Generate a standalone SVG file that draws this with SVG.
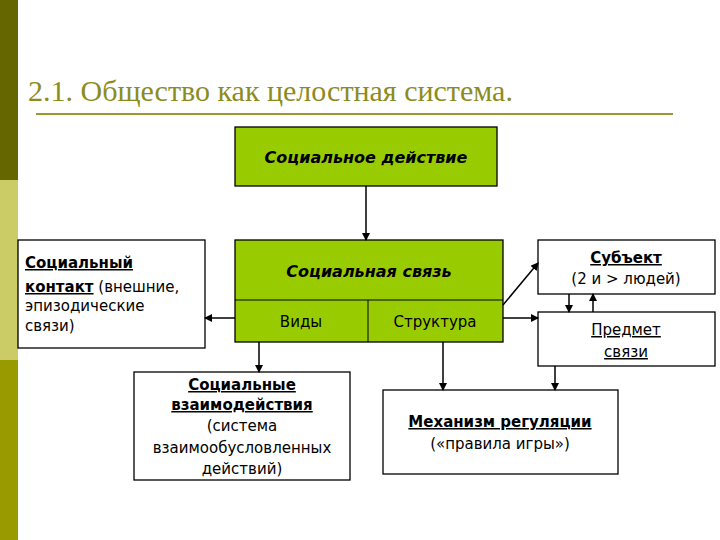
<svg xmlns="http://www.w3.org/2000/svg" width="720" height="540" viewBox="0 0 720 540">
<defs>
<marker id="ah" markerWidth="8" markerHeight="8" refX="7" refY="4" orient="auto" markerUnits="userSpaceOnUse"><path d="M0,0 L8,4 L0,8 z" fill="#000"/></marker>
</defs>
<style>
.g{fill:#99CC00;stroke:#000;stroke-width:1.3}
.w{fill:#fff;stroke:#000;stroke-width:1.3}
text{font-family:"DejaVu Sans","Liberation Sans",sans-serif;font-size:15px;fill:#000}
.b{font-weight:bold}
.bi{font-weight:bold;font-style:italic;font-size:16px}
.c{stroke:#000;stroke-width:1.5;fill:none;marker-end:url(#ah)}
</style>
<rect width="720" height="540" fill="#fff"/>
<rect x="0" y="0" width="18" height="180" fill="#666600"/>
<rect x="0" y="180" width="18" height="180" fill="#CCCC66"/>
<rect x="0" y="360" width="18" height="180" fill="#999900"/>
<text x="28" y="101" style="font-family:'Liberation Serif',serif;font-size:30px;fill:#8c8c1e">2.1. Общество как целостная система.</text>
<line x1="36" y1="114" x2="673" y2="114" stroke="#999933" stroke-width="2"/>
<g id="action"><rect class="g" x="235" y="127" width="262" height="59"/><text class="bi" x="366" y="163" text-anchor="middle">Социальное действие</text></g>
<g id="link"><rect class="g" x="235" y="240" width="268" height="102"/><line x1="235" y1="300" x2="503" y2="300" stroke="#000"/><line x1="368" y1="300" x2="368" y2="342" stroke="#000"/>
<text class="bi" x="369" y="277" text-anchor="middle">Социальная связь</text>
<text x="301" y="327" text-anchor="middle">Виды</text><text x="435" y="327" text-anchor="middle">Структура</text></g>
<g id="contact"><rect class="w" x="18" y="240" width="187" height="108"/>
<text x="25" y="268"><tspan class="b" text-decoration="underline">Социальный</tspan></text>
<text x="25" y="292"><tspan class="b" text-decoration="underline">контакт</tspan> (внешние,</text>
<text x="25" y="311">эпизодические</text><text x="25" y="331">связи)</text></g>
<g id="subject"><rect class="w" x="538" y="240" width="177" height="54"/>
<text class="b" x="626" y="263" text-anchor="middle" text-decoration="underline">Субъект</text>
<text x="626" y="284" text-anchor="middle">(2 и &gt; людей)</text></g>
<g id="subjectlink"><rect class="w" x="538" y="312" width="177" height="54"/>
<text x="626" y="335" text-anchor="middle" text-decoration="underline">Предмет</text>
<text x="626" y="357" text-anchor="middle" text-decoration="underline">связи</text></g>
<g id="interact"><rect class="w" x="134" y="372" width="216" height="108"/>
<text class="b" x="242" y="390" text-anchor="middle" text-decoration="underline">Социальные</text>
<text class="b" x="242" y="410" text-anchor="middle" text-decoration="underline">взаимодействия</text>
<text x="242" y="431" text-anchor="middle">(система</text>
<text x="242" y="453" text-anchor="middle">взаимообусловленных</text>
<text x="242" y="474" text-anchor="middle">действий)</text></g>
<g id="mech"><rect class="w" x="383" y="390" width="235" height="84"/>
<text class="b" x="500" y="427" text-anchor="middle" text-decoration="underline">Механизм регуляции</text>
<text x="500" y="449" text-anchor="middle">(«правила игры»)</text></g>
<g id="connectors">
<line class="c" x1="366" y1="186" x2="366" y2="240"/>
<line class="c" x1="235" y1="318" x2="205" y2="318"/>
<line class="c" x1="503" y1="305" x2="538" y2="263"/>
<line class="c" x1="503" y1="318" x2="538" y2="318"/>
<line class="c" x1="569" y1="294" x2="569" y2="312"/>
<line class="c" x1="593" y1="312" x2="593" y2="294"/>
<line class="c" x1="259" y1="342" x2="259" y2="372"/>
<line class="c" x1="443" y1="342" x2="443" y2="390"/>
<line class="c" x1="555" y1="366" x2="555" y2="390"/>
</g>
</svg>
